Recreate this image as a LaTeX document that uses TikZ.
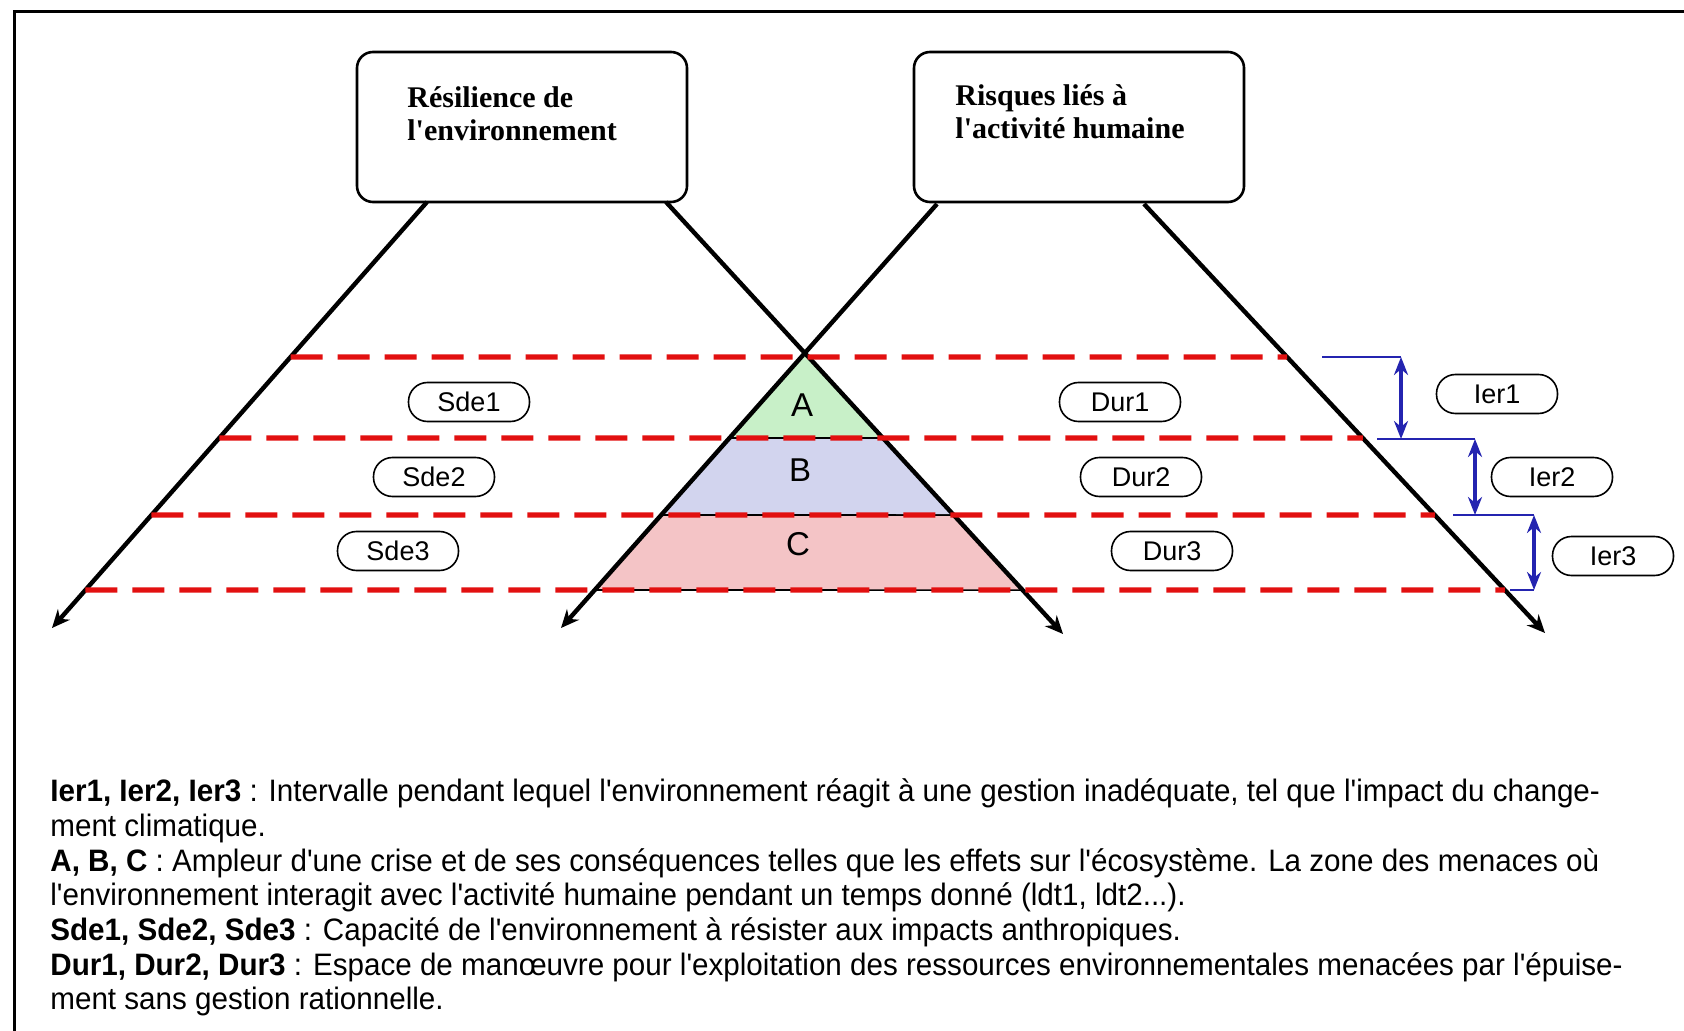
\documentclass[tikz,border=0pt]{standalone}
\usepackage{fontspec}
\setmainfont{Liberation Sans}
\newfontfamily\titlefont{Liberation Serif}
\newfontfamily\legendfont[FakeStretch=0.955]{Liberation Sans}
\usetikzlibrary{arrows.meta}

\definecolor{dashred}{RGB}{226,16,16}
\definecolor{ierblue}{RGB}{36,36,176}
\definecolor{zoneA}{RGB}{200,240,200}
\definecolor{zoneB}{RGB}{210,212,238}
\definecolor{zoneC}{RGB}{244,196,198}

\tikzset{
  frame/.style={line width=1.5pt},
  titlebox/.style={draw, line width=1.3pt, rounded corners=8pt,
    minimum width=165pt, minimum height=75pt},
  titletext/.style={anchor=north west, align=left, inner sep=0pt,
    font=\titlefont\bfseries\fontsize{15}{16.5}\selectfont},
  axis/.style={line width=2.2pt, -{Stealth[length=9pt,width=8pt]}},
  dashline/.style={dashred, line width=2.6pt, dash pattern=on 16pt off 7.5pt},
  zone/.style={draw=black, line width=0.8pt},
  zonelabel/.style={font=\fontsize{16.5}{18}\selectfont},
  pill/.style={draw, line width=0.8pt, rounded corners=9.5pt, inner sep=0pt,
    minimum width=60.5pt, minimum height=19.5pt, font=\fontsize{13.5}{15}\selectfont},
  ierline/.style={ierblue, line width=1.2pt},
  ierarrow/.style={ierblue, line width=2pt,
    {Stealth[length=9pt,width=7pt]}-{Stealth[length=9pt,width=7pt]}},
  legtext/.style={anchor=base west, inner sep=0pt,
    font=\legendfont\fontsize{15.5}{17}\selectfont}
}

\begin{document}
\begin{tikzpicture}[x=0.5pt, y=-0.5pt]
\useasboundingbox (0,0) rectangle (1684,1031);
\draw[frame] (14,1031) -- (14,12) -- (1684,12);

% les deux boites
\node[titlebox] (resil) at (522,127) {};
\node[titlebox] (risque) at (1079,127) {};
\node[titletext] (resiltxt) at (407,86) {Résilience de\\l'environnement};
\node[titletext] (risquetxt) at (955,84) {Risques liés à\\l'activité humaine};

% axes
\coordinate (l1s) at (427,202); \coordinate (l1e) at (52,628);
\coordinate (l2s) at (666,202); \coordinate (l2e) at (1063,634);
\coordinate (l3s) at (937,204); \coordinate (l3e) at (561,628);
\coordinate (l4s) at (1144,204); \coordinate (l4e) at (1545,633);
\coordinate (apex) at (intersection of l2s--l2e and l3s--l3e);

\foreach \yy [count=\i] in {357,438,515,590}{
  \coordinate (w\i) at (0,\yy);
  \coordinate (e\i) at (1684,\yy);
  \coordinate (a\i) at (intersection of l1s--l1e and w\i--e\i);
  \coordinate (b\i) at (intersection of l3s--l3e and w\i--e\i);
  \coordinate (c\i) at (intersection of l2s--l2e and w\i--e\i);
  \coordinate (d\i) at (intersection of l4s--l4e and w\i--e\i);
}

% zones A, B, C
\draw[zone, fill=zoneA] (apex) -- (b2) -- (c2) -- cycle;
\draw[zone, fill=zoneB] (b2) -- (c2) -- (c3) -- (b3) -- cycle;
\draw[zone, fill=zoneC] (b3) -- (c3) -- (c4) -- (b4) -- cycle;
\node[zonelabel] (zA) at (802,405) {A};
\node[zonelabel] (zB) at (800,470) {B};
\node[zonelabel] (zC) at (798,544) {C};

\draw[axis] (l1s) -- (l1e);
\draw[axis] (l2s) -- (l2e);
\draw[axis] (l3s) -- (l3e);
\draw[axis] (l4s) -- (l4e);

\foreach \i in {1,...,4}
  \draw[dashline] (a\i) -- (d\i);

% etiquettes
\node[pill] (sde1) at (469,402) {Sde1};
\node[pill] (sde2) at (434,477) {Sde2};
\node[pill] (sde3) at (398,551) {Sde3};
\node[pill] (dur1) at (1120,402) {Dur1};
\node[pill] (dur2) at (1141,477) {Dur2};
\node[pill] (dur3) at (1172,551) {Dur3};
\node[pill] (ier1) at (1497,394) {Ier1};
\node[pill] (ier2) at (1552,477) {Ier2};
\node[pill] (ier3) at (1613,556) {Ier3};

% intervalles
\coordinate (i1t) at (1401,357); \coordinate (i1b) at (1401,439);
\coordinate (i2t) at (1475,439); \coordinate (i2b) at (1475,515);
\coordinate (i3t) at (1534,515); \coordinate (i3b) at (1534,590);
\draw[ierline] (1322,357) -- (i1t);
\draw[ierline] (1377,439) -- (i2t);
\draw[ierline] (1453,515) -- (i3t);
\draw[ierline] (1510,590) -- (i3b);
\draw[ierarrow] (i1t) -- (i1b);
\draw[ierarrow] (i2t) -- (i2b);
\draw[ierarrow] (i3t) -- (i3b);

% legende
\node[legtext] (leg1) at (50,801) {\textbf{Ier1, Ier2, Ier3} : Intervalle pendant lequel l'environnement réagit à une gestion inadéquate, tel que l'impact du change-};
\node[legtext] (leg2) at (50,836) {ment climatique.};
\node[legtext] (leg3) at (50,871) {\textbf{A, B, C} : Ampleur d'une crise et de ses conséquences telles que les effets sur l'écosystème. La zone des menaces où};
\node[legtext] (leg4) at (50,905) {l'environnement interagit avec l'activité humaine pendant un temps donné (ldt1, ldt2...).};
\node[legtext] (leg5) at (50,940) {\textbf{Sde1, Sde2, Sde3} : Capacité de l'environnement à résister aux impacts anthropiques.};
\node[legtext] (leg6) at (50,975) {\textbf{Dur1, Dur2, Dur3} : Espace de manœuvre pour l'exploitation des ressources environnementales menacées par l'épuise-};
\node[legtext] (leg7) at (50,1009) {ment sans gestion rationnelle.};
\end{tikzpicture}
\end{document}
